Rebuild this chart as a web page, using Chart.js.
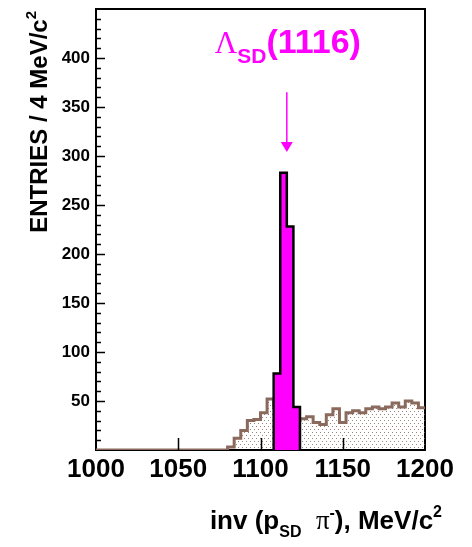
<!DOCTYPE html>
<html>
<head>
<meta charset="utf-8">
<script src="https://cdn.jsdelivr.net/npm/chart.js@4.4.1/dist/chart.umd.min.js"></script>
<style>
    html, body { margin: 0; padding: 0; background: #fff; }
</style>
</head>
<body>
<canvas id="histo" width="472" height="547"></canvas>
<script>
// ---- dades: histograma de massa invariant, bins de 4 MeV/c2 ----
const BIN_START = 1000;
const BIN_WIDTH = 4;

// fons (contorn marró, farciment puntejat), un valor per bin des de 1000
const bkgCounts = [
    0, 0, 0, 0, 0, 0, 0, 0, 0, 0,
    0, 0, 0, 0, 0, 0, 0, 0, 0, 0,
    3, 12, 20, 30, 31, 38, 52, 45, 40, 36,
    30, 32, 34, 28, 26, 36, 42, 28, 38, 40,
    38, 42, 44, 42, 44, 48, 44, 50, 48, 43
];

// senyal Lambda (magenta), bins a partir de 1108
const SIG_START = 1108;
const sigCounts = [78, 283, 228, 44];

const xTickLabels = [1000, 1050, 1100, 1150, 1200];
const yTickLabels = [50, 100, 150, 200, 250, 300, 350, 400];
const yMinorStep = 10;

const X_MIN = 1000, X_MAX = 1200, Y_MIN = 0, Y_MAX = 450;

// anotacio de la fletxa (unitats de dades)
const PEAK_MASS = 1116;
const ARROW_FROM = 365;
const ARROW_TO = 304;
const LABEL_Y = 405;

const FONT = '"Liberation Sans", Arial, sans-serif';
const SERIF = '"Liberation Serif", "Times New Roman", serif';
const MAGENTA = '#ff00ff';
const BROWN = '#8a6a5c';

// punts per a la línia esglaonada
function histoPoints(start, width, counts, closeToZero) {
    const pts = [];
    if (closeToZero) pts.push({ x: start, y: 0 });
    counts.forEach((c, i) => pts.push({ x: start + i * width, y: c }));
    const end = start + counts.length * width;
    pts.push({ x: end, y: closeToZero ? 0 : counts[counts.length - 1] });
    return pts;
}

// patró de punts per al fons
function dotPattern() {
    const c = document.createElement('canvas');
    c.width = 4; c.height = 6;
    const g = c.getContext('2d');
    g.fillStyle = 'rgba(135, 100, 90, 0.8)';
    g.fillRect(0, 0, 1, 1);
    g.fillRect(2, 3, 1, 1);
    return g.createPattern(c, 'repeat');
}

// text amb subíndexs / superíndexs
function richWidth(ctx, parts) {
    let w = 0;
    parts.forEach(p => { ctx.font = p.font; w += ctx.measureText(p.text).width; });
    return w;
}
function drawRich(ctx, parts, x, y) {
    let cx = x;
    parts.forEach(p => {
        ctx.font = p.font;
        ctx.fillText(p.text, cx, y + (p.dy || 0));
        cx += ctx.measureText(p.text).width;
    });
}

const rootStyle = {
    id: 'rootStyle',
    beforeDatasetsDraw(chart) {
        const { ctx, chartArea: a } = chart;
        ctx.save();
        ctx.strokeStyle = '#000';
        ctx.lineWidth = 2;
        ctx.strokeRect(a.left, a.top, a.right - a.left, a.bottom - a.top);
        ctx.restore();
    },
    afterDatasetsDraw(chart) {
        const { ctx, chartArea: a, scales: { x, y } } = chart;
        ctx.save();
        ctx.strokeStyle = '#000';
        ctx.lineWidth = 1.5;
        ctx.beginPath();
        // marques de l'eix Y cap a dins
        for (let v = Y_MIN + yMinorStep; v < Y_MAX; v += yMinorStep) {
            const py = Math.round(y.getPixelForValue(v)) + 0.5;
            const len = yTickLabels.includes(v) ? 9 : 5;
            ctx.moveTo(a.left, py);
            ctx.lineTo(a.left + len, py);
        }
        // marques de l'eix X cap a dins
        xTickLabels.forEach(v => {
            if (v === X_MIN || v === X_MAX) return;
            const px = Math.round(x.getPixelForValue(v)) + 0.5;
            ctx.moveTo(px, a.bottom);
            ctx.lineTo(px, a.bottom - 12);
        });
        ctx.stroke();

        // fletxa
        const ax = x.getPixelForValue(PEAK_MASS);
        const y0 = y.getPixelForValue(ARROW_FROM);
        const y1 = y.getPixelForValue(ARROW_TO);
        ctx.strokeStyle = MAGENTA;
        ctx.fillStyle = MAGENTA;
        ctx.lineWidth = 1.5;
        ctx.beginPath();
        ctx.moveTo(ax, y0);
        ctx.lineTo(ax, y1 - 8);
        ctx.stroke();
        ctx.beginPath();
        ctx.moveTo(ax - 6, y1 - 10);
        ctx.lineTo(ax + 6, y1 - 10);
        ctx.lineTo(ax, y1);
        ctx.closePath();
        ctx.fill();

        // etiqueta Lambda_SD(1116)
        const parts = [
            { text: 'Λ', font: '31px ' + SERIF },
            { text: 'SD', font: 'bold 21px ' + FONT, dy: 10 },
            { text: '(1116)', font: 'bold 34px ' + FONT }
        ];
        ctx.textBaseline = 'alphabetic';
        ctx.textAlign = 'left';
        const w = richWidth(ctx, parts);
        drawRich(ctx, parts, ax + 1 - w / 2, y.getPixelForValue(LABEL_Y));
        ctx.restore();
    },
    afterDraw(chart) {
        const { ctx, chartArea: a } = chart;
        ctx.save();
        ctx.fillStyle = '#000';
        ctx.textAlign = 'left';
        ctx.textBaseline = 'alphabetic';

        // títol eix X
        const xt = [
            { text: 'inv (p', font: 'bold 26px ' + FONT },
            { text: 'SD', font: 'bold 16px ' + FONT, dy: 8 },
            { text: '  ', font: 'bold 26px ' + FONT },
            { text: 'π', font: '27px ' + SERIF },
            { text: '-', font: 'bold 16px ' + FONT, dy: -11 },
            { text: '), MeV/c', font: 'bold 26px ' + FONT },
            { text: '2', font: 'bold 16px ' + FONT, dy: -12 }
        ];
        const xw = richWidth(ctx, xt);
        drawRich(ctx, xt, a.right + 17 - xw, 529);

        // títol eix Y (girat, alineat a dalt)
        const yt = [
            { text: 'ENTRIES / 4 MeV/c', font: 'bold 24px ' + FONT },
            { text: '2', font: 'bold 15px ' + FONT, dy: -11 }
        ];
        const yw = richWidth(ctx, yt);
        ctx.translate(47, a.top + 2);
        ctx.rotate(-Math.PI / 2);
        drawRich(ctx, yt, -yw, 0);
        ctx.restore();
    }
};

const ctx = document.getElementById('histo').getContext('2d');

const chart = new Chart(ctx, {
    type: 'line',
    data: {
        datasets: [
            {
                label: 'signal',
                data: histoPoints(SIG_START, BIN_WIDTH, sigCounts, true),
                stepped: 'before',
                borderColor: '#000',
                borderWidth: 2.5,
                backgroundColor: MAGENTA,
                fill: 'origin',
                pointRadius: 0,
                tension: 0
            },
            {
                label: 'background',
                data: histoPoints(BIN_START, BIN_WIDTH, bkgCounts, false),
                stepped: 'before',
                borderColor: BROWN,
                borderWidth: 3,
                backgroundColor: dotPattern(),
                fill: 'origin',
                pointRadius: 0,
                tension: 0
            }
        ]
    },
    options: {
        responsive: false,
        animation: false,
        devicePixelRatio: 1,
        layout: { padding: { top: 9, right: 47, left: 0, bottom: 0 } },
        plugins: {
            legend: { display: false },
            tooltip: { enabled: false }
        },
        scales: {
            x: {
                type: 'linear',
                min: X_MIN,
                max: X_MAX,
                afterFit: s => { s.height = 97; s.paddingLeft = 0; s.paddingRight = 0; },
                grid: { display: false, drawTicks: false },
                border: { display: false },
                ticks: {
                    stepSize: 50,
                    autoSkip: false,
                    maxRotation: 0,
                    padding: 4,
                    color: '#000',
                    font: { family: FONT, size: 26, weight: 'bold' },
                    callback: v => xTickLabels.includes(v) ? String(v) : ''
                }
            },
            y: {
                min: Y_MIN,
                max: Y_MAX,
                afterFit: s => { s.width = 96; s.paddingTop = 0; s.paddingBottom = 0; },
                grid: { display: false, drawTicks: false },
                border: { display: false },
                ticks: {
                    stepSize: 50,
                    padding: 6,
                    color: '#000',
                    font: { family: FONT, size: 17, weight: 'bold' },
                    callback: v => yTickLabels.includes(v) ? String(v) : ''
                }
            }
        }
    },
    plugins: [rootStyle]
});
</script>
</body>
</html>
